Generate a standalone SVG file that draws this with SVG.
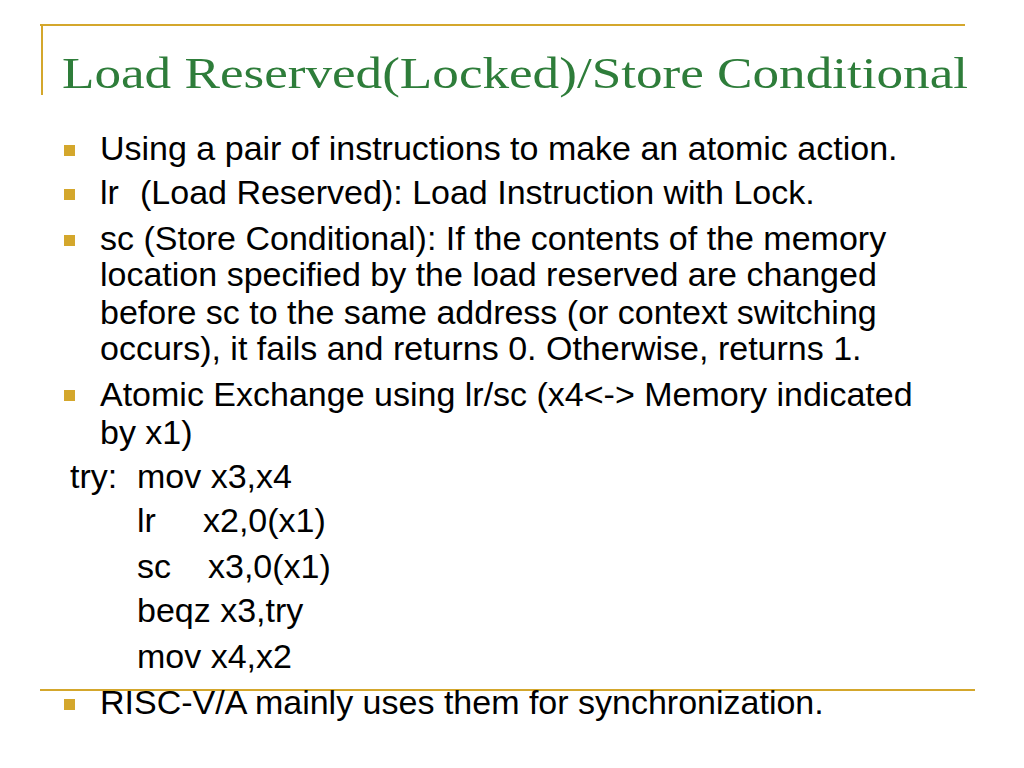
<svg xmlns="http://www.w3.org/2000/svg" width="1024" height="768" viewBox="0 0 1024 768">
<style>
.t{font-family:"Liberation Sans",Arial,sans-serif;font-size:34px;fill:#000}
.b{fill:#d4a72c}
.l{stroke:#d4a72c;stroke-width:2;fill:none}
</style>
<rect width="1024" height="768" fill="#fff"/>
<path class="l" d="M40 25H965M42 25V95M40 690H975"/>
<text x="62" y="88" font-family="'Liberation Serif',serif" font-size="44" fill="#2e7d3a" textLength="906" lengthAdjust="spacingAndGlyphs">Load Reserved(Locked)/Store Conditional</text>
<g id="bullets">
<rect class="b" x="64" y="145" width="11" height="11"/>
<rect class="b" x="64" y="189" width="11" height="11"/>
<rect class="b" x="64" y="235" width="11" height="11"/>
<rect class="b" x="64" y="390" width="11" height="11"/>
<rect class="b" x="64" y="699" width="11" height="11"/>
</g>
<g id="text">
<text class="t" x="100" y="160">Using a pair of instructions to make an atomic action.</text>
<text class="t" x="100" y="204">lr</text><text class="t" x="140" y="204">(Load Reserved): Load Instruction with Lock.</text>
<text class="t" x="100" y="250">sc (Store Conditional): If the contents of the memory</text>
<text class="t" x="100" y="286">location specified by the load reserved are changed</text>
<text class="t" x="100" y="324">before sc to the same address  (or context switching</text>
<text class="t" x="100" y="360">occurs), it fails and returns 0. Otherwise, returns 1.</text>
<text class="t" x="100" y="406">Atomic Exchange using lr/sc (x4&lt;-&gt; Memory indicated</text>
<text class="t" x="100" y="444">by x1)</text>
<text class="t" x="70" y="488">try:</text><text class="t" x="137" y="488">mov x3,x4</text>
<text class="t" x="137" y="532">lr</text><text class="t" x="203" y="532">x2,0(x1)</text>
<text class="t" x="137" y="578">sc</text><text class="t" x="208" y="578">x3,0(x1)</text>
<text class="t" x="137" y="622">beqz x3,try</text>
<text class="t" x="137" y="668">mov x4,x2</text>
<text class="t" x="100" y="714">RISC-V/A mainly uses them for synchronization.</text>
</g>
</svg>
